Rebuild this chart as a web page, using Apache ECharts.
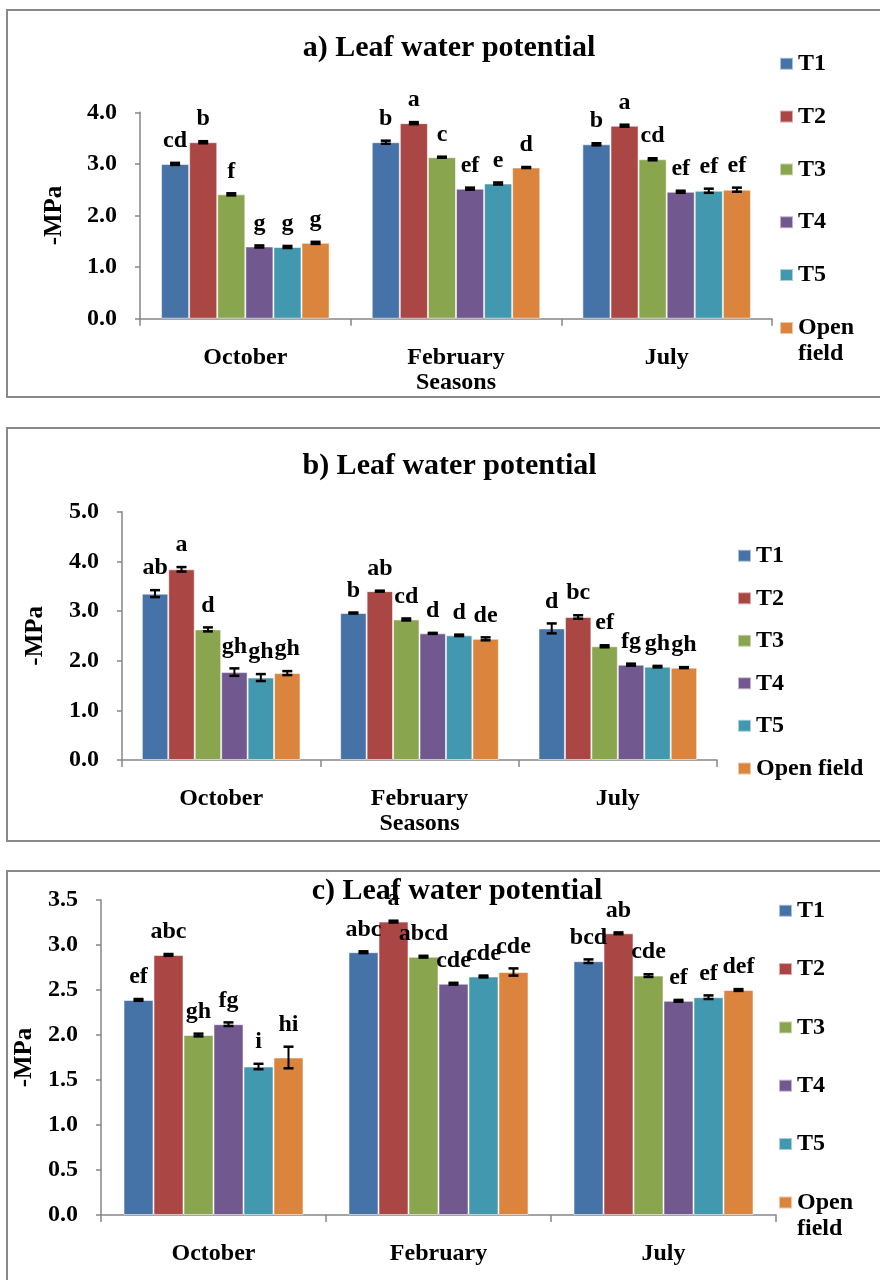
<!DOCTYPE html>
<html>
<head>
<meta charset="utf-8">
<script src="https://cdn.jsdelivr.net/npm/echarts@6/dist/echarts.min.js"></script>
<style>
  html, body { margin: 0; padding: 0; background: #fff; overflow: hidden; }
  #chart { width: 880px; height: 1280px; }
</style>
</head>
<body>
<div id="chart"></div>
<script>
// Categories and treatments shared by the three panels
const seasons = ['October', 'February', 'July'];
const treatments = ['T1', 'T2', 'T3', 'T4', 'T5', 'Open field'];
const palette = ['#4572A7', '#AA4643', '#89A54E', '#71588F', '#4198AF', '#DB843D'];

// a) Leaf water potential (-MPa), order T1..T5, Open field
const aOctober = [3.00, 3.42, 2.41, 1.40, 1.39, 1.47];
const aFebruary = [3.42, 3.79, 3.13, 2.52, 2.62, 2.93];
const aJuly = [3.38, 3.74, 3.09, 2.46, 2.48, 2.50];
const aOctoberErr = [0.02, 0.02, 0.02, 0.02, 0.02, 0.02];
const aFebruaryErr = [0.03, 0.02, 0.01, 0.02, 0.02, 0.01];
const aJulyErr = [0.02, 0.02, 0.02, 0.02, 0.04, 0.04];
const aOctoberSig = ['cd', 'b', 'f', 'g', 'g', 'g'];
const aFebruarySig = ['b', 'a', 'c', 'ef', 'e', 'd'];
const aJulySig = ['b', 'a', 'cd', 'ef', 'ef', 'ef'];

// b) Leaf water potential (-MPa)
const bOctober = [3.35, 3.84, 2.63, 1.77, 1.66, 1.75];
const bFebruary = [2.96, 3.40, 2.83, 2.55, 2.51, 2.44];
const bJuly = [2.65, 2.88, 2.29, 1.92, 1.88, 1.86];
const bOctoberErr = [0.07, 0.045, 0.04, 0.075, 0.07, 0.04];
const bFebruaryErr = [0.01, 0.01, 0.02, 0.01, 0.015, 0.03];
const bJulyErr = [0.1, 0.035, 0.02, 0.02, 0.015, 0.01];
const bOctoberSig = ['ab', 'a', 'd', 'gh', 'gh', 'gh'];
const bFebruarySig = ['b', 'ab', 'cd', 'd', 'd', 'de'];
const bJulySig = ['d', 'bc', 'ef', 'fg', 'gh', 'gh'];

// c) Leaf water potential (-MPa)
const cOctober = [2.39, 2.89, 2.00, 2.12, 1.65, 1.75];
const cFebruary = [2.92, 3.26, 2.87, 2.57, 2.65, 2.70];
const cJuly = [2.82, 3.13, 2.66, 2.38, 2.42, 2.50];
const cOctoberErr = [0.01, 0.01, 0.015, 0.02, 0.03, 0.12];
const cFebruaryErr = [0.01, 0.01, 0.01, 0.01, 0.01, 0.04];
const cJulyErr = [0.02, 0.01, 0.015, 0.01, 0.02, 0.01];
const cOctoberSig = ['ef', 'abc', 'gh', 'fg', 'i', 'hi'];
const cFebruarySig = ['abc', 'a', 'abcd', 'cde', 'cde', 'cde'];
const cJulySig = ['bcd', 'ab', 'cde', 'ef', 'ef', 'def'];

const FONT = '"Liberation Serif", "Times New Roman", serif';
const AXIS = '#868686';
const GAP = 0.2; // bar category gap fraction
const LEGEND_LINE = 26;

const panels = [
  {
    title: 'a) Leaf water potential', values: [aOctober, aFebruary, aJuly],
    errs: [aOctoberErr, aFebruaryErr, aJulyErr], sigs: [aOctoberSig, aFebruarySig, aJulySig],
    yMax: 4, yStep: 1, xName: 'Seasons', openWrap: true,
    grid: { left: 140, top: 112.3, width: 632, height: 206.4 },
    titleX: 449, titleTop: 33, legendLeft: 779, legendTop: 50.8, legendGap: 26.8, openCenter: 328,
    yNameGap: 73, frameY: 10, frameH: 387
  },
  {
    title: 'b) Leaf water potential', values: [bOctober, bFebruary, bJuly],
    errs: [bOctoberErr, bFebruaryErr, bJulyErr], sigs: [bOctoberSig, bFebruarySig, bJulySig],
    yMax: 5, yStep: 1, xName: 'Seasons', openWrap: false,
    grid: { left: 122, top: 511.7, width: 595, height: 248.3 },
    titleX: 449.5, titleTop: 451, legendLeft: 737, legendTop: 542.8, legendGap: 16.5, openCenter: 768.5,
    yNameGap: 74, frameY: 428, frameH: 413
  },
  {
    title: 'c) Leaf water potential', values: [cOctober, cFebruary, cJuly],
    errs: [cOctoberErr, cFebruaryErr, cJulyErr], sigs: [cOctoberSig, cFebruarySig, cJulySig],
    yMax: 3.5, yStep: 0.5, xName: '', openWrap: true,
    grid: { left: 101, top: 900, width: 675, height: 315 },
    titleX: 457, titleTop: 876, legendLeft: 778, legendTop: 897.8, legendGap: 32.3, openCenter: 1202.5,
    yNameGap: 62, frameY: 871, frameH: 450
  }
];

const boldText = (size, extra) => Object.assign(
  { fontFamily: FONT, fontWeight: 'bold', fontSize: size, color: '#000' }, extra || {});

const option = {
  animation: false,
  backgroundColor: '#fff',
  title: [], legend: [], grid: [], xAxis: [], yAxis: [], series: [], graphic: []
};

panels.forEach((p, k) => {
  // panel frame
  option.graphic.push({
    type: 'rect', silent: true, z: 0,
    shape: { x: 7, y: p.frameY, width: 900, height: p.frameH },
    style: { fill: 'none', stroke: '#898989', lineWidth: 2 }
  });

  option.title.push({
    text: p.title, left: p.titleX, top: p.titleTop, textAlign: 'center', padding: 0,
    textStyle: boldText(30, { lineHeight: 30 })
  });

  const legendBase = {
    orient: 'vertical', left: p.legendLeft, padding: 0, height: 400,
    itemWidth: 13, itemHeight: 12, icon: 'rect', selectedMode: false,
    textStyle: boldText(24, { lineHeight: LEGEND_LINE })
  };
  // T1..T5
  option.legend.push(Object.assign({}, legendBase, {
    top: p.legendTop, itemGap: p.legendGap, data: treatments.slice(0, 5)
  }));
  // Open field: on two lines (first one level with the swatch) where space is narrow
  const wrapLines = p.openWrap ? 3 : 1;
  option.legend.push(Object.assign({}, legendBase, {
    top: p.openCenter - wrapLines * LEGEND_LINE / 2, data: [treatments[5]],
    formatter: n => (p.openWrap ? ' \n' + n.replace(' ', '\n') : n)
  }));

  option.grid.push(Object.assign({ containLabel: false }, p.grid));

  option.xAxis.push({
    type: 'category', gridIndex: k, data: seasons,
    name: p.xName, nameLocation: 'middle', nameGap: 51,
    nameTextStyle: boldText(24, { lineHeight: 24 }),
    axisLine: { lineStyle: { color: AXIS, width: 1.5 } },
    axisTick: { show: true, length: 7, lineStyle: { color: AXIS, width: 1.5 } },
    axisLabel: boldText(24, { margin: 27, lineHeight: 24, interval: 0 }),
    splitLine: { show: false }
  });

  option.yAxis.push({
    type: 'value', gridIndex: k, min: 0, max: p.yMax, interval: p.yStep,
    name: '-MPa', nameLocation: 'middle', nameRotate: 90, nameGap: p.yNameGap,
    nameTextStyle: boldText(25, { lineHeight: 25 }),
    axisLine: { show: true, lineStyle: { color: AXIS, width: 1.5 } },
    axisTick: { show: true, length: 5, lineStyle: { color: AXIS, width: 1.5 } },
    axisLabel: boldText(24, { margin: 23, formatter: v => v.toFixed(1) }),
    splitLine: { show: false }
  });

  treatments.forEach((t, i) => {
    option.series.push({
      type: 'bar', name: t, xAxisIndex: k, yAxisIndex: k,
      data: p.values.map(s => s[i]),
      barGap: 0, barCategoryGap: (GAP * 100) + '%',
      itemStyle: { color: palette[i], borderColor: 'rgba(255,255,255,0.55)', borderWidth: 1 },
      emphasis: { disabled: true }, silent: true
    });
  });

  // error bars and significance letters, positioned on the bars through the axes
  const items = [];
  const letters = [];
  p.values.forEach((s, c) => s.forEach((v, i) => {
    items.push([c, v, p.errs[c][i], i]);
    letters.push(p.sigs[c][i]);
  }));
  option.series.push({
    type: 'custom', xAxisIndex: k, yAxisIndex: k, z: 5, silent: true,
    data: items, encode: { x: 0, y: 1 },
    renderItem: (params, api) => {
      const c = api.value(0), v = api.value(1), e = api.value(2), i = api.value(3);
      const center = api.coord([c, 0]);
      const groupW = api.size([1, 0])[0] * (1 - GAP);
      const barW = groupW / treatments.length;
      const x = center[0] - groupW / 2 + barW * (i + 0.5);
      const yHi = api.coord([c, v + e])[1];
      const yLo = api.coord([c, v - e])[1];
      const cap = 5;
      return {
        type: 'group',
        children: [
          { type: 'line', shape: { x1: x, y1: yHi, x2: x, y2: yLo }, style: { stroke: '#000', lineWidth: 2 } },
          { type: 'line', shape: { x1: x - cap, y1: yHi, x2: x + cap, y2: yHi }, style: { stroke: '#000', lineWidth: 2.5 } },
          { type: 'line', shape: { x1: x - cap, y1: yLo, x2: x + cap, y2: yLo }, style: { stroke: '#000', lineWidth: 2.5 } },
          {
            type: 'text',
            style: {
              text: letters[params.dataIndex], x: x, y: yHi - 10,
              align: 'center', verticalAlign: 'bottom',
              font: 'bold 24px ' + FONT, fill: '#000'
            }
          }
        ]
      };
    }
  });
});

const chart = echarts.init(document.getElementById('chart'), null, { renderer: 'canvas' });
chart.setOption(option);
</script>
</body>
</html>
